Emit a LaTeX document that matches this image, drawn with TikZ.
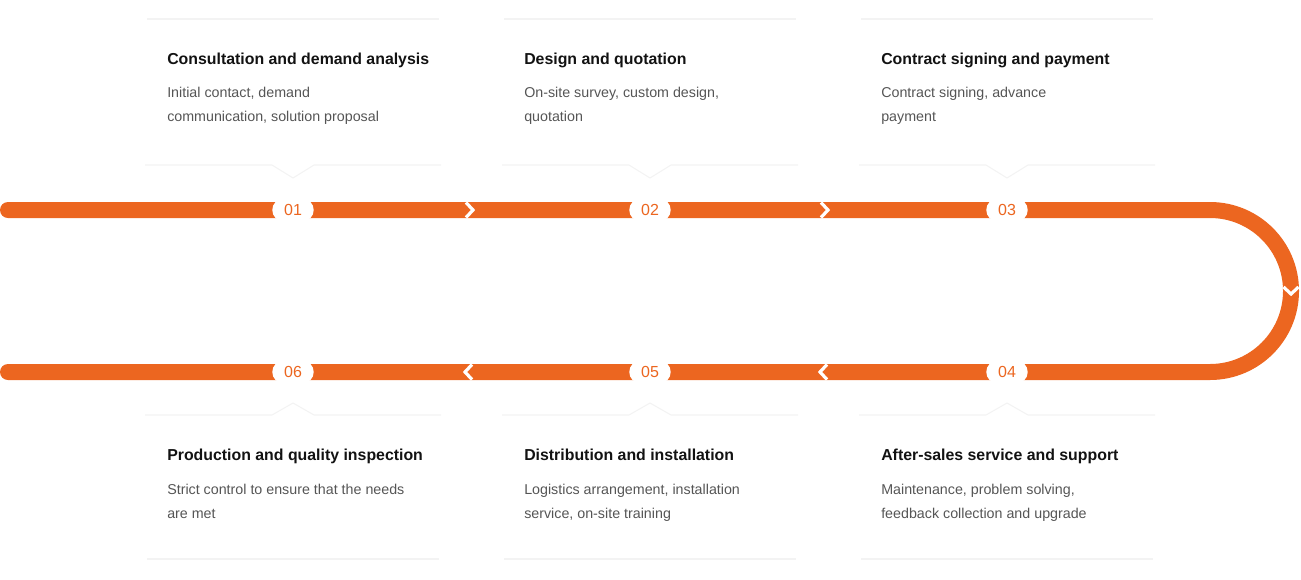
\documentclass[tikz,border=0pt]{standalone}
\usepackage{fontspec}
\setmainfont{Liberation Sans}
\usepackage{tikz}
\usepackage{xcolor}

\definecolor{brand}{HTML}{EC6620}
\definecolor{cardline}{HTML}{F3F3F3}
\definecolor{desctext}{HTML}{555555}

\tikzset{
  track/.style={draw=brand,line width=12pt,line cap=round},
  badge/.style={fill=white,rounded corners=8pt,minimum width=31pt,minimum height=16.5pt,
    inner sep=0pt,text=brand,font=\fontsize{12}{14}\selectfont},
  chev/.style={draw=white,line width=2.4pt},
  cardedge/.style={draw=cardline,line width=0.8pt},
  ttl/.style={anchor=base west,inner sep=0pt,text=black!93,font=\fontsize{11.9}{14}\selectfont\bfseries},
  dsc/.style={anchor=base west,inner sep=0pt,align=left,text=desctext,font=\fontsize{10.7}{18}\selectfont}
}

\begin{document}
\begin{tikzpicture}[x=0.75pt,y=-0.75pt]
\useasboundingbox (0,0) rectangle (1301,579);
% track
\coordinate (tstart) at (8,210);
\coordinate (tturn) at (1210,210);
\coordinate (tend) at (8,372);
\draw[track] (tstart) -- (tturn) arc[start angle=-90,end angle=90,radius=81] -- (tend);
% chevrons
\draw[chev] (466,202.5) -- (473,210) -- (466,217.5);
\draw[chev] (821,202.5) -- (828,210) -- (821,217.5);
\draw[chev] (1283.5,287) -- (1291,294) -- (1298.5,287);
\draw[chev] (827,364.5) -- (820,372) -- (827,379.5);
\draw[chev] (472,364.5) -- (465,372) -- (472,379.5);
% cards, top row (only the faint top and bottom edges show)
\draw[cardedge] (147,19) -- (439,19);
\draw[cardedge] (145,165) -- (272,165) -- (293,178) -- (314,165) -- (441,165);
\draw[cardedge] (504,19) -- (796,19);
\draw[cardedge] (502,165) -- (629,165) -- (650,178) -- (671,165) -- (798,165);
\draw[cardedge] (861,19) -- (1153,19);
\draw[cardedge] (859,165) -- (986,165) -- (1007,178) -- (1028,165) -- (1155,165);
% cards, bottom row
\draw[cardedge] (145,415) -- (272,415) -- (293,403) -- (314,415) -- (441,415);
\draw[cardedge] (147,559) -- (439,559);
\draw[cardedge] (502,415) -- (629,415) -- (650,403) -- (671,415) -- (798,415);
\draw[cardedge] (504,559) -- (796,559);
\draw[cardedge] (859,415) -- (986,415) -- (1007,403) -- (1028,415) -- (1155,415);
\draw[cardedge] (861,559) -- (1153,559);
% step badges
\node[badge] (n1) at (293,210) {01};
\node[badge] (n2) at (650,210) {02};
\node[badge] (n3) at (1007,210) {03};
\node[badge] (n4) at (1007,372) {04};
\node[badge] (n5) at (650,372) {05};
\node[badge] (n6) at (293,372) {06};
% texts, top row
\node[ttl] (t1) at (167,64) {Consultation and demand analysis};
\node[dsc] (d1) at (167,121.7) {Initial contact, demand\\communication, solution proposal};
\node[ttl] (t2) at (524,64) {Design and quotation};
\node[dsc] (d2) at (524,121.7) {On-site survey, custom design,\\quotation};
\node[ttl] (t3) at (881,64) {Contract signing and payment};
\node[dsc] (d3) at (881,121.7) {Contract signing, advance\\payment};
% texts, bottom row
\node[ttl] (t6) at (167,460) {Production and quality inspection};
\node[dsc] (d6) at (167,518) {Strict control to ensure that the needs\\are met};
\node[ttl] (t5) at (524,460) {Distribution and installation};
\node[dsc] (d5) at (524,518) {Logistics arrangement, installation\\service, on-site training};
\node[ttl] (t4) at (881,460) {After-sales service and support};
\node[dsc] (d4) at (881,518) {Maintenance, problem solving,\\feedback collection and upgrade};
\end{tikzpicture}
\end{document}
